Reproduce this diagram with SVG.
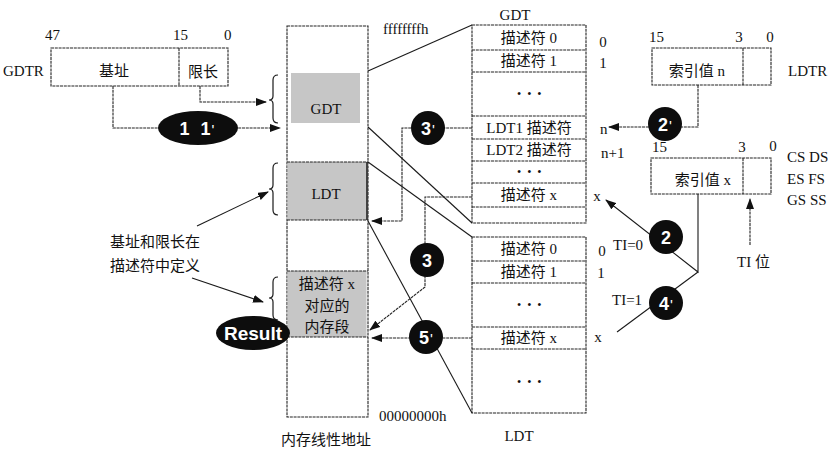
<svg xmlns="http://www.w3.org/2000/svg" width="838" height="454" viewBox="0 0 838 454">
<defs>
<marker id="ah" markerUnits="userSpaceOnUse" markerWidth="11" markerHeight="8" refX="10" refY="4" orient="auto">
<path d="M0,0 L11,4 L0,8 z" fill="#111"/>
</marker>
<style>
text{font-family:"Liberation Serif","Noto Sans CJK SC",serif;fill:#111;font-size:15px}
.c{text-anchor:middle}
.box{fill:#fff;stroke:#222;stroke-width:1.1;stroke-dasharray:3 0.8}
.ln{fill:none;stroke:#222;stroke-width:1.1;stroke-dasharray:3 0.8}
.sl{fill:none;stroke:#1a1a1a;stroke-width:1.1}
.gray{fill:#c6c6c6}
.br{fill:none;stroke:#1a1a1a;stroke-width:1.2}
.bub{fill:#0d0d0d}
.bt{font-family:"Liberation Sans",Arial,sans-serif;font-weight:bold;fill:#fff;font-size:18px;text-anchor:middle}
.pr{font-weight:normal;font-size:15px}
.dots{font-size:12px;letter-spacing:1.5px;text-anchor:middle}
</style>
</defs>
<rect width="838" height="454" fill="#fff"/>

<g id="memory">
<rect class="box" x="287" y="26" width="81" height="391"/>
<rect class="gray" x="291" y="73" width="69" height="50"/>
<rect class="gray" x="287.5" y="162" width="80" height="58"/>
<line class="ln" x1="287" y1="162" x2="368" y2="162"/>
<line class="ln" x1="287" y1="220" x2="368" y2="220"/>
<line x1="367" y1="162" x2="367" y2="220" stroke="#222" stroke-width="1.6"/>
<rect class="gray" x="287.5" y="271" width="79" height="66"/>
<line class="ln" x1="287" y1="271" x2="368" y2="271"/>
<line class="ln" x1="287" y1="337" x2="368" y2="337"/>
<text class="c" x="326" y="114" font-size="16">GDT</text>
<text class="c" x="326" y="199" font-size="16">LDT</text>
<text class="c" x="327" y="289">描述符 x</text>
<text class="c" x="327" y="311">对应的</text>
<text class="c" x="327" y="332">内存段</text>
<text x="383" y="34">ffffffffh</text>
<text x="379" y="421" font-size="16">00000000h</text>
<text class="c" x="326" y="445" font-size="15.5">内存线性地址</text>
</g>

<g id="gdtr">
<rect class="box" x="51" y="48" width="177" height="38"/>
<line class="ln" x1="179" y1="48" x2="179" y2="86"/>
<text x="3" y="76" font-size="16">GDTR</text>
<text x="45" y="40" font-size="16">47</text>
<text x="173" y="40" font-size="16">15</text>
<text x="224" y="40" font-size="16">0</text>
<text class="c" x="114" y="76" font-size="16">基址</text>
<text class="c" x="203" y="77" font-size="16">限长</text>
</g>

<g id="gdt">
<rect class="box" x="472" y="25" width="114" height="198"/>
<line class="ln" x1="472" y1="50" x2="586" y2="50"/>
<line class="ln" x1="472" y1="72" x2="586" y2="72"/>
<line class="ln" x1="472" y1="116" x2="586" y2="116"/>
<line class="ln" x1="472" y1="139" x2="586" y2="139"/>
<line class="ln" x1="472" y1="161" x2="586" y2="161"/>
<line class="ln" x1="472" y1="183" x2="586" y2="183"/>
<line class="ln" x1="472" y1="207" x2="586" y2="207"/>
<text class="c" x="515" y="20">GDT</text>
<text class="c" x="529" y="43">描述符 0</text>
<text class="c" x="529" y="66">描述符 1</text>
<text class="dots" x="530" y="98">• • •</text>
<text class="c" x="529" y="133">LDT1 描述符</text>
<text class="c" x="529" y="155">LDT2 描述符</text>
<text class="dots" x="530" y="176">• • •</text>
<text class="c" x="529" y="200">描述符 x</text>
<text class="c" x="603" y="47">0</text>
<text class="c" x="603" y="68">1</text>
<text x="600" y="134">n</text>
<text x="601" y="158">n+1</text>
<text class="c" x="597" y="201">x</text>
</g>

<g id="ldt">
<rect class="box" x="472" y="237" width="114" height="176"/>
<line class="ln" x1="472" y1="261" x2="586" y2="261"/>
<line class="ln" x1="472" y1="283" x2="586" y2="283"/>
<line class="ln" x1="472" y1="327" x2="586" y2="327"/>
<line class="ln" x1="472" y1="349" x2="586" y2="349"/>
<text class="c" x="529" y="254">描述符 0</text>
<text class="c" x="529" y="277">描述符 1</text>
<text class="dots" x="530" y="309">• • •</text>
<text class="c" x="529" y="343">描述符 x</text>
<text class="dots" x="530" y="386">• • •</text>
<text class="c" x="519" y="441">LDT</text>
<text class="c" x="602" y="256">0</text>
<text class="c" x="601" y="278">1</text>
<text class="c" x="598" y="342">x</text>
</g>

<g id="ldtr">
<rect class="box" x="652" y="48" width="119" height="37"/>
<line class="ln" x1="743" y1="48" x2="743" y2="85"/>
<text class="c" x="697" y="76">索引值 n</text>
<text x="649" y="42">15</text>
<text class="c" x="739" y="42">3</text>
<text class="c" x="770" y="42">0</text>
<text x="788" y="76">LDTR</text>
</g>

<g id="selector">
<rect class="box" x="651" y="158" width="120" height="36"/>
<line class="ln" x1="743" y1="158" x2="743" y2="194"/>
<text class="c" x="703" y="185">索引值 x</text>
<text x="652" y="152">15</text>
<text class="c" x="742" y="152">3</text>
<text class="c" x="773" y="151">0</text>
<text x="787" y="162">CS DS</text>
<text x="787" y="184">ES FS</text>
<text x="787" y="205">GS SS</text>
<text x="737" y="267">TI 位</text>
<text x="613" y="250">TI=0</text>
<text x="612" y="305">TI=1</text>
</g>

<g id="notes">
<text x="110" y="247" font-size="15.5">基址和限长在</text>
<text x="110" y="271" font-size="15.5">描述符中定义</text>
<path class="br" d="M278,75 Q273,75 273,80 L273,96 Q273,100 269,100 Q273,100 273,104 L273,118 Q273,123 278,123"/>
<path class="br" d="M278,163 Q273,163 273,168 L273,185 Q273,189 269,189 Q273,189 273,193 L273,210 Q273,215 278,215"/>
<path class="br" d="M278,277 Q273,277 273,282 L273,294 Q273,298 269,298 Q273,298 273,302 L273,315 Q273,320 278,320"/>
</g>

<g id="connectors">
<path class="ln" d="M113,86 V128 H280" marker-end="url(#ah)"/>
<path class="ln" d="M200,86 V102 H266" marker-end="url(#ah)"/>
<path class="sl" d="M197,226 L268,192" marker-end="url(#ah)"/>
<path class="sl" d="M192,278 L263,302" marker-end="url(#ah)"/>
<line class="sl" x1="368" y1="71" x2="472" y2="25"/>
<line class="sl" x1="368" y1="127" x2="472" y2="223"/>
<line class="sl" x1="368" y1="162" x2="472" y2="237"/>
<line class="sl" x1="368" y1="221" x2="472" y2="413"/>
<path class="ln" d="M472,128 H402 V221 H372" marker-end="url(#ah)"/>
<path class="ln" d="M472,197 H425 V287 L370,330" marker-end="url(#ah)"/>
<path class="ln" d="M472,338 H372" marker-end="url(#ah)"/>
<path class="ln" d="M698,85 V127 H609" marker-end="url(#ah)"/>
<path class="sl" d="M698,194 V272 L606,200" marker-end="url(#ah)"/>
<path class="sl" d="M698,272 L617,332"/>
<path class="ln" d="M750,245 V199" marker-end="url(#ah)"/>
</g>

<g id="step-1">
<ellipse class="bub" cx="198" cy="128" rx="40" ry="17"/>
<text class="bt" x="197" y="135">1<tspan dx="12">1</tspan><tspan class="pr" dx="1">'</tspan></text>
</g>
<g id="step-3p">
<circle class="bub" cx="428" cy="128" r="17"/>
<text class="bt" x="428" y="135">3<tspan class="pr" dx="1">'</tspan></text>
</g>
<g id="step-3">
<circle class="bub" cx="427" cy="260" r="17"/>
<text class="bt" x="427" y="267">3</text>
</g>
<g id="step-5p">
<circle class="bub" cx="426" cy="337" r="17"/>
<text class="bt" x="426" y="344">5<tspan class="pr" dx="1">'</tspan></text>
</g>
<g id="step-2p">
<circle class="bub" cx="665" cy="124" r="17"/>
<text class="bt" x="665" y="131">2<tspan class="pr" dx="1">'</tspan></text>
</g>
<g id="step-2">
<circle class="bub" cx="666" cy="237" r="17"/>
<text class="bt" x="666" y="244">2</text>
</g>
<g id="step-4p">
<circle class="bub" cx="666" cy="303" r="17"/>
<text class="bt" x="666" y="310">4<tspan class="pr" dx="1">'</tspan></text>
</g>
<g id="result">
<ellipse class="bub" cx="253" cy="333" rx="37" ry="17"/>
<text class="bt" x="253" y="340" style="font-size:19px">Result</text>
</g>
</svg>
